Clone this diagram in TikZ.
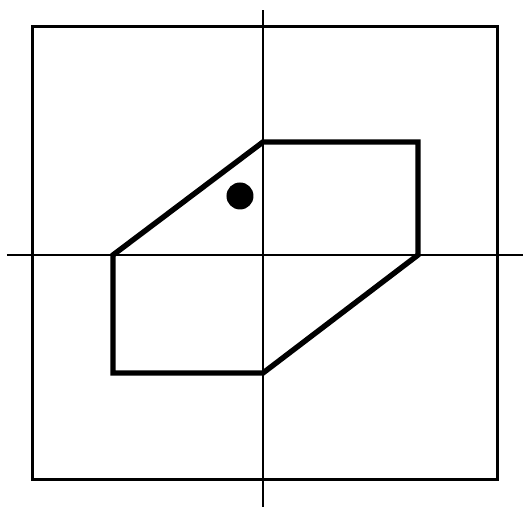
\documentclass[tikz,border=0pt]{standalone}
\usetikzlibrary{calc}

\begin{document}
\begin{tikzpicture}[
    x=1pt, y=1pt,
    frame/.style={draw=black, line width=3pt},
    axis/.style={draw=black, line width=1.8pt},
    outline/.style={draw=black, line width=5.4pt, line join=miter},
  ]
    \useasboundingbox (-263,-253) rectangle (260,255);

    % outer frame
    \draw[frame] (-230,-225) rectangle (235,228);

    % axes
    \coordinate (xl) at (-256,0);
    \coordinate (xr) at (260,0);
    \coordinate (yb) at (0,-252);
    \coordinate (yt) at (0,245);
    \draw[axis] (xl) -- (xr);
    \draw[axis] (yb) -- (yt);

    % outline
    \coordinate (p1) at (-150,0);
    \coordinate (p2) at (0,113);
    \coordinate (p3) at (155,113);
    \coordinate (p4) at (155,0);
    \coordinate (p5) at (0,-118);
    \coordinate (p6) at (-150,-118);
    \draw[outline] (p1) -- (p2) -- (p3) -- (p4) -- (p5) -- (p6) -- cycle;

    % dot
    \fill[black] (-23,59) circle (13.5);
  \end{tikzpicture}
\end{document}
